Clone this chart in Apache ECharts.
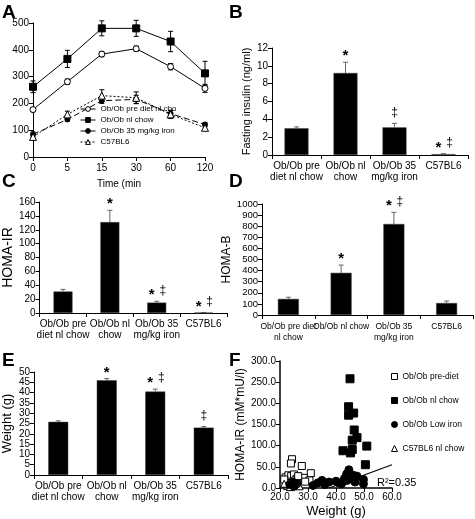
<!DOCTYPE html>
<html><head><meta charset="utf-8">
<script src="https://cdn.jsdelivr.net/npm/echarts@6/dist/echarts.min.js"></script>
<style>html,body{margin:0;padding:0;background:#fff}#c{width:475px;height:519px}</style>
</head><body><div id="c"></div>
<script>
// ---------- Panel A: glucose tolerance ----------
const A_times = ['0', '5', '15', '30', '60', '120'];
const A_names = ['Ob/Ob pre diet nl cho', 'Ob/Ob nl chow', 'Ob/Ob 35 mg/kg iron', 'C57BL6'];
const A_preDiet = [177, 281, 384, 404, 337, 256];
const A_preDietErr = [8, 10, 10, 10, 12, 15];
const A_nlChow = [262, 366, 480, 480, 431, 312];
const A_nlChowErr = [22, 32, 28, 30, 38, 45];
const A_iron = [85, 140, 210, 215, 162, 121];
const A_ironErr = [8, 6, 10, 15, 12, 8];
const A_c57 = [75, 159, 229, 221, 159, 109];
const A_c57Err = [8, 12, 22, 22, 15, 10];

// ---------- Bar panels ----------
const groupsBCE = ['Ob/Ob pre\ndiet nl chow', 'Ob/Ob nl\nchow', 'Ob/Ob 35\nmg/kg iron', 'C57BL6'];
const groupsD = ['Ob/Ob pre diet\nnl chow', 'Ob/Ob nl chow', 'Ob/Ob 35\nmg/kg iron', 'C57BL6'];

const B_insulin = [3.0, 9.2, 3.1, 0.1];
const B_err = [0.15, 1.2, 0.45, 0.05];
const B_marks = ['', '*', '‡', '*‡'];

const C_homaIR = [31, 131, 15, 0.5];
const C_err = [3, 17, 2, 0.3];
const C_marks = ['', '*', '*‡', '*‡'];

const D_homaB = [145, 380, 820, 108];
const D_err = [15, 70, 105, 18];
const D_marks = ['', '*', '*‡', ''];

const E_weight = [25.8, 46.0, 40.5, 23.0];
const E_err = [0.5, 0.8, 1.2, 0.5];
const E_marks = ['', '*', '*‡', '‡'];

// ---------- Panel F: scatter ----------
const F_names = ['Ob/Ob pre-diet', 'Ob/Ob nl chow ', 'Ob/Ob Low iron', 'C57BL6 nl chow'];
const F_preDiet = [[24.3,68],[23.9,58],[27.8,52],[31,35],[22,25],[23,30],[24,28],[25,32],[26,22],[27,20],[28.5,24],[30.5,18],[22.5,15],[25.5,18],[29,15],[23.5,12],[21.5,20],[26.5,28]];
const F_nlChow = [[45,258],[44.5,192],[46.3,177],[44.5,172],[46.5,137],[45.8,113],[47.5,119],[51,99],[42.5,88],[45.8,91],[45.2,83],[50.5,55]];
const F_lowIron = [[23.5,8],[25,4],[26,10],[31.8,6],[33.5,12],[35,18],[36,8],[37.5,14],[40,16],[41,12],[42,10],[43,22],[43.8,33],[44.6,43],[45.5,26],[46.2,30],[46.8,14],[47.5,28],[49.8,20],[49.8,10],[44,18],[24.5,14]];
const F_c57 = [[22.5,5],[23,8],[24,3],[25,6],[26,10],[24.5,12],[27,4],[23.5,2],[21.5,10]];
const F_fit = [[37.5, 0], [60, 55]];
const F_r2 = 'R²=0.35';

const FONT = 'Liberation Sans, Arial, sans-serif';
const BLACK = '#000';

function errBars(xi, yi, vals, errs, color, cap, upOnly) {
  return {
    type: 'custom', xAxisIndex: xi, yAxisIndex: yi, silent: true, z: 1,
    encode: { x: 0, y: 1 },
    data: vals.map((v, i) => [i, v, errs[i]]),
    renderItem(params, api) {
      const i = api.value(0), v = api.value(1), e = api.value(2);
      const t = api.coord([i, v + e]);
      const b = api.coord([i, upOnly ? v : v - e]);
      const st = { stroke: color, lineWidth: 1 };
      const ch = [
        { type: 'line', shape: { x1: t[0], y1: t[1], x2: b[0], y2: b[1] }, style: st },
        { type: 'line', shape: { x1: t[0] - cap, y1: t[1], x2: t[0] + cap, y2: t[1] }, style: st }
      ];
      if (!upOnly) ch.push({ type: 'line', shape: { x1: b[0] - cap, y1: b[1], x2: b[0] + cap, y2: b[1] }, style: st });
      return { type: 'group', children: ch };
    }
  };
}

function marks(xi, yi, vals, errs, labels) {
  return {
    type: 'custom', xAxisIndex: xi, yAxisIndex: yi, silent: true, z: 5,
    encode: { x: 0, y: 1 },
    data: vals.map((v, i) => [i, v + errs[i]]),
    renderItem(params, api) {
      const s = labels[params.dataIndex];
      if (!s) return null;
      const p = api.coord([api.value(0), api.value(1)]);
      const chars = s.split('');
      return {
        type: 'group',
        children: chars.map((c, k) => ({
          type: 'text',
          x: p[0] + (chars.length > 1 ? (k === 0 ? -5 : 6) : 0),
          y: p[1] + (c === '*' ? -6 : -11),
          style: {
            text: c, fill: BLACK, textAlign: 'center', textVerticalAlign: 'middle',
            font: c === '*' ? 'bold 15px ' + FONT : '12px ' + FONT
          }
        }))
      };
    }
  };
}

const axLine = { show: true, lineStyle: { color: BLACK, width: 1 } };
const axTick = { show: true, length: 4, lineStyle: { color: BLACK } };

function catAxis(gi, data, boundary, size) {
  return {
    type: 'category', gridIndex: gi, data: data, boundaryGap: boundary,
    axisLine: axLine, axisTick: axTick,
    axisLabel: { interval: 0, color: BLACK, fontSize: size || 10, fontFamily: FONT, lineHeight: 11, margin: 6 },
    splitLine: { show: false }
  };
}
function valAxis(gi, max, interval, name, gap, nameSize, fmt, labelSize) {
  return {
    type: 'value', gridIndex: gi, min: 0, max: max, interval: interval,
    name: name, nameLocation: 'middle', nameGap: gap, nameRotate: 90,
    nameTextStyle: { color: BLACK, fontSize: nameSize, fontFamily: FONT },
    axisLine: axLine, axisTick: axTick,
    axisLabel: { color: BLACK, fontSize: labelSize || 10, fontFamily: FONT, margin: 4, formatter: fmt || (v => String(v)) },
    splitLine: { show: false }
  };
}
function bars(xi, yi, vals, w) {
  return { type: 'bar', xAxisIndex: xi, yAxisIndex: yi, data: vals, barWidth: w,
    itemStyle: { color: BLACK, borderColor: '#444', borderWidth: 0.5 }, z: 2 };
}

const grids = [
  { left: 33, top: 23, width: 172, height: 134 },   // A
  { left: 272, top: 48, width: 196, height: 107 },  // B
  { left: 32, top: 202, width: 195, height: 111 },  // C
  { left: 262, top: 204, width: 211, height: 111 }, // D
  { left: 30, top: 372, width: 198, height: 103 },  // E
  { left: 280, top: 361, width: 112, height: 128 }  // F
];

const xAxes = [
  Object.assign(catAxis(0, A_times, false), {
    name: 'Time (min', nameLocation: 'middle', nameGap: 22,
    nameTextStyle: { color: BLACK, fontSize: 10, fontFamily: FONT }
  }),
  catAxis(1, groupsBCE, true),
  catAxis(2, groupsBCE, true),
  catAxis(3, groupsD, true, 8.5),
  catAxis(4, groupsBCE, true),
  {
    type: 'value', gridIndex: 5, min: 20, max: 60, interval: 10,
    name: 'Weight (g)', nameLocation: 'middle', nameGap: 17,
    nameTextStyle: { color: BLACK, fontSize: 13, fontFamily: FONT },
    axisLine: { show: true, lineStyle: { color: BLACK, width: 1.5 } }, axisTick: axTick,
    axisLabel: { color: BLACK, fontSize: 10, fontFamily: FONT, margin: 4, formatter: v => v.toFixed(1) },
    splitLine: { show: false }
  }
];
const yAxes = [
  valAxis(0, 500, 100, '', 0, 10),
  valAxis(1, 12, 2, 'Fasting insulin (ng/ml)', 20, 11),
  valAxis(2, 160, 20, 'HOMA-IR', 24, 14),
  valAxis(3, 1000, 100, 'HOMA-B', 22, 12, null, 9.5),
  valAxis(4, 50, 5, 'Weight (g)', 20, 13),
  Object.assign(valAxis(5, 300, 50, 'HOMA-IR (mM*mU/l)', 30, 12, v => v.toFixed(1)), {
    axisLine: { show: true, lineStyle: { color: BLACK, width: 1.5 } }
  })
];

function aLine(name, data, symbol, size, filled, type) {
  return {
    type: 'line', name: name, xAxisIndex: 0, yAxisIndex: 0, data: data,
    symbol: symbol, symbolSize: size, showSymbol: true, z: 3,
    itemStyle: { color: filled ? BLACK : '#fff', borderColor: BLACK, borderWidth: 1 },
    lineStyle: { color: BLACK, width: 1, type: type }
  };
}
function fScatter(name, data, symbol, size, filled) {
  return {
    type: 'scatter', name: name, xAxisIndex: 5, yAxisIndex: 5, data: data,
    symbol: symbol, symbolSize: size, z: 3,
    itemStyle: { color: filled ? BLACK : '#fff', borderColor: BLACK, borderWidth: 1, opacity: 1 }
  };
}

const series = [
  errBars(0, 0, A_preDiet, A_preDietErr, BLACK, 2.5, false),
  errBars(0, 0, A_nlChow, A_nlChowErr, BLACK, 2.5, false),
  errBars(0, 0, A_iron, A_ironErr, BLACK, 2.5, false),
  errBars(0, 0, A_c57, A_c57Err, BLACK, 2.5, false),
  aLine(A_names[0], A_preDiet, 'circle', 6, false, 'solid'),
  aLine(A_names[1], A_nlChow, 'rect', 7, true, 'solid'),
  aLine(A_names[2], A_iron, 'circle', 5, true, [6, 3]),
  aLine(A_names[3], A_c57, 'triangle', 7, false, [2, 2]),

  bars(1, 1, B_insulin, 24), errBars(1, 1, B_insulin, B_err, '#666', 2.5, true), marks(1, 1, B_insulin, B_err, B_marks),
  bars(2, 2, C_homaIR, 19), errBars(2, 2, C_homaIR, C_err, '#666', 2.5, true), marks(2, 2, C_homaIR, C_err, C_marks),
  bars(3, 3, D_homaB, 21), errBars(3, 3, D_homaB, D_err, '#666', 2.5, true), marks(3, 3, D_homaB, D_err, D_marks),
  bars(4, 4, E_weight, 20), errBars(4, 4, E_weight, E_err, '#666', 2.5, true), marks(4, 4, E_weight, E_err, E_marks),

  fScatter(F_names[0], F_preDiet, 'rect', 7, false),
  fScatter(F_names[3], F_c57, 'triangle', 7, false),
  fScatter(F_names[2], F_lowIron, 'circle', 8, true),
  fScatter(F_names[1], F_nlChow, 'rect', 8, true),
  { type: 'line', xAxisIndex: 5, yAxisIndex: 5, data: F_fit, symbol: 'none', z: 4,
    lineStyle: { color: BLACK, width: 1.2 } }
];

function letter(t, x, y) {
  return { type: 'text', left: x, top: y, style: { text: t, font: 'bold 19px ' + FONT, fill: BLACK } };
}

const chart = echarts.init(document.getElementById('c'), null, { renderer: 'canvas' });
chart.setOption({
  animation: false,
  backgroundColor: '#fff',
  grid: grids,
  xAxis: xAxes,
  yAxis: yAxes,
  legend: [
    {
      data: A_names, orient: 'vertical', left: 80, top: 105, padding: 0,
      itemWidth: 15, itemHeight: 6, itemGap: 3, selectedMode: false,
      itemStyle: { borderWidth: 1 }, lineStyle: { width: 1 },
      textStyle: { color: BLACK, fontSize: 8, fontFamily: FONT }
    },
    {
      data: F_names, orient: 'vertical', left: 391, top: 372, padding: 0,
      itemWidth: 6, itemHeight: 6, itemGap: 15, selectedMode: false,
      itemStyle: { borderWidth: 1 },
      textStyle: { color: BLACK, fontSize: 8.5, fontFamily: FONT }
    }
  ],
  graphic: [
    letter('A', 2, 3), letter('B', 229, 3),
    letter('C', 2, 172), letter('D', 229, 172),
    letter('E', 2, 351), letter('F', 229, 351),
    { type: 'text', left: 377, top: 477, style: { text: F_r2, font: '11px ' + FONT, fill: BLACK } }
  ],
  series: series
});
</script></body></html>
